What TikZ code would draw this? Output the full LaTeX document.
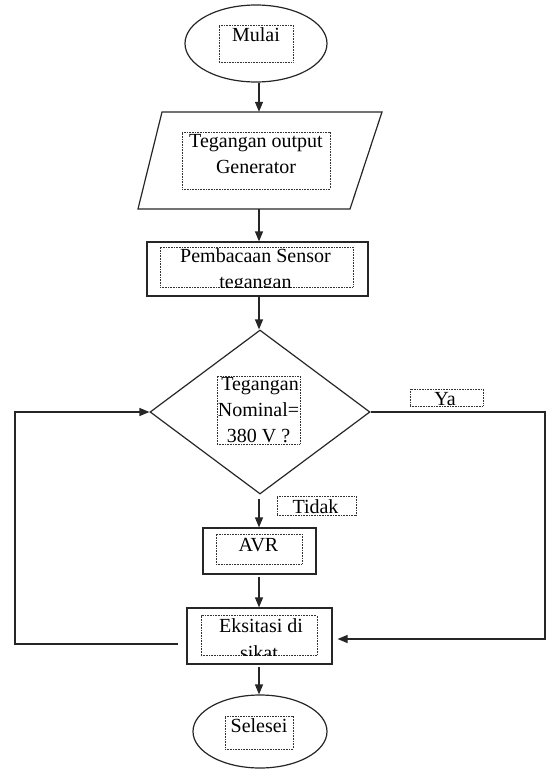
\documentclass[tikz,border=0pt]{standalone}
\usepackage{fontspec}
\setmainfont{Liberation Serif}
\usetikzlibrary{shapes.geometric,arrows.meta}
\begin{document}
\begin{tikzpicture}[x=1pt,y=-1pt,
  shapeline/.style={draw=black!85, line width=1.2pt},
  conn/.style={draw=black!85, line width=1.2pt},
  arr/.style={conn, -{Triangle[length=10pt,width=8pt]}},
  dotbox/.style={draw=black!80, line width=0.8pt, dash pattern=on 0.8pt off 0.8pt, inner sep=0pt, rectangle},
  txt/.style={font=\fontsize{20}{26}\selectfont, inner sep=0pt, anchor=base, text=black},
  term/.style={shapeline, ellipse, inner sep=0pt},
  proc/.style={shapeline, rectangle, inner sep=0pt},
]
\useasboundingbox (0,0) rectangle (553,771);
\coordinate (axis) at (259,0);

% Mulai
\node[term, minimum width=142, minimum height=77] (mulai) at (256,43.5) {};
\node[dotbox, minimum width=74, minimum height=37] (mulaibox) at (256,43.5) {};
\begin{scope}
\clip (mulaibox.south west) rectangle (mulaibox.north east);
\node[txt] (mulaitxt) at (256,41) {Mulai};
\end{scope}

% Input parallelogram
\node[minimum width=220, minimum height=97, inner sep=0pt] (inp) at (259,160.5) {};
\draw[shapeline] (162,112) -- (382,112) -- (350,209) -- (138,209) -- cycle;
\node[dotbox, minimum width=148, minimum height=57] (inpbox) at (256,160.5) {};
\begin{scope}
\clip (inpbox.south west) rectangle (inpbox.north east);
\node[txt] (inptxta) at (256,147) {Tegangan output};
\node[txt] (inptxtb) at (256,173) {Generator};
\end{scope}

% Pembacaan sensor
\node[proc, minimum width=221, minimum height=54] (baca) at (257.5,269) {};
\node[dotbox, minimum width=193, minimum height=40] (bacabox) at (256.5,267) {};
\begin{scope}
\clip (bacabox.south west) rectangle (bacabox.north east);
\node[txt] (bacatxta) at (255.5,262) {Pembacaan Sensor};
\node[txt] (bacatxtb) at (255.5,288) {tegangan};
\end{scope}

% Decision
\node[shapeline, diamond, minimum width=220, minimum height=164, inner sep=0pt] (cek) at (260,412) {};
\node[dotbox, minimum width=83, minimum height=68] (cekbox) at (258.5,410) {};
\begin{scope}
\clip (cekbox.south west) rectangle (cekbox.north east);
\node[txt] (cektxta) at (260,390) {Tegangan};
\node[txt] (cektxtb) at (258.5,416) {Nominal=};
\node[txt] (cektxtc) at (258.5,442) {380 V ?};
\end{scope}

% Ya label
\node[dotbox, minimum width=73, minimum height=17] (yabox) at (446.5,397.5) {};
\begin{scope}
\clip (yabox.south west) rectangle (yabox.north east);
\node[txt] (yatxt) at (445,405) {Ya};
\end{scope}

% Tidak label
\node[dotbox, minimum width=79, minimum height=19] (tidakbox) at (316.5,505.5) {};
\begin{scope}
\clip (tidakbox.south west) rectangle (tidakbox.north east);
\node[txt] (tidaktxt) at (315.5,513) {Tidak};
\end{scope}

% AVR
\node[proc, minimum width=113, minimum height=46] (avr) at (259.5,551) {};
\node[dotbox, minimum width=86, minimum height=30] (avrbox) at (259,549) {};
\begin{scope}
\clip (avrbox.south west) rectangle (avrbox.north east);
\node[txt] (avrtxt) at (258.5,551) {AVR};
\end{scope}

% Eksitasi
\node[proc, minimum width=145, minimum height=56] (eks) at (259.5,636) {};
\node[dotbox, minimum width=116, minimum height=40] (eksbox) at (259,635.5) {};
\begin{scope}
\clip (eksbox.south west) rectangle (eksbox.north east);
\node[txt] (ekstxta) at (261,632) {Eksitasi di};
\node[txt] (ekstxtb) at (259,659) {sikat};
\end{scope}

% Selesei
\node[term, minimum width=134, minimum height=73] (selesai) at (260,731.5) {};
\node[dotbox, minimum width=68, minimum height=33] (selbox) at (259,732.5) {};
\begin{scope}
\clip (selbox.south west) rectangle (selbox.north east);
\node[txt] (seltxt) at (259,732) {Selesei};
\end{scope}

% connectors
\draw[arr] (axis |- mulai.south) -- (axis |- inp.north);
\draw[arr] (axis |- inp.south) -- (axis |- baca.north);
\draw[arr] (axis |- baca.south) -- (axis |- cek.north);
\draw[arr, shorten <=4pt] (axis |- cek.south) -- (axis |- avr.north);
\draw[arr, shorten <=2pt] (axis |- avr.south) -- (axis |- eks.north);
\draw[arr, shorten <=2pt] (axis |- eks.south) -- (axis |- selesai.north);

\coordinate (rbot) at (545,639);
\draw[arr, shorten >=5pt] (cek.east) -| (rbot) -- (rbot -| eks.east);

\coordinate (lstart) at (178,644);
\coordinate (lbot) at (15,644);
\draw[arr] (lstart) -- (lbot) -- (lbot |- cek.west) -- (cek.west);
\end{tikzpicture}
\end{document}
